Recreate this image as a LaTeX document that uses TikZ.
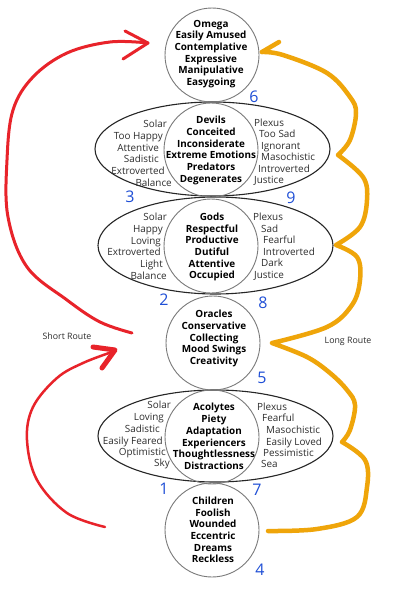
\documentclass[tikz,border=0pt]{standalone}
\usepackage{fontspec}
\setmainfont{Open Sans}
\usetikzlibrary{shapes.geometric}
\definecolor{rred}{HTML}{E8232A}
\definecolor{gold}{HTML}{EFA50A}
\definecolor{numblue}{HTML}{1F4FD6}
\definecolor{sidegray}{HTML}{2E2E2E}
\definecolor{ringgray}{HTML}{7A7A7A}
\begin{document}
\begin{tikzpicture}[x=1pt,y=-1pt,
  ring/.style={circle, draw=ringgray, line width=0.9pt, minimum size=94pt, inner sep=0pt},
  oval/.style={ellipse, draw=black!85, line width=1.1pt, inner sep=0pt},
  core/.style={align=center, inner sep=0pt, font=\fontsize{9.9}{11.7}\selectfont\bfseries},
  lside/.style={anchor=base east, inner sep=0pt, text=sidegray, font=\fontsize{9.9}{11.7}\selectfont},
  rside/.style={anchor=base west, inner sep=0pt, text=sidegray, font=\fontsize{9.9}{11.7}\selectfont},
  routelabel/.style={inner sep=0pt, text=sidegray, font=\fontsize{8.8}{10}\selectfont},
  num/.style={inner sep=0pt, text=numblue, font=\fontsize{16}{16}\selectfont},
  redroute/.style={draw=rred, line width=3pt, line cap=round, line join=round},
  goldroute/.style={draw=gold, line width=4.5pt, line cap=round, line join=round}]
\fill[white] (0,0) rectangle (419,589);
\useasboundingbox (0,0) rectangle (419,589);

% ellipses
\node[oval, minimum width=235pt, minimum height=94pt] (e2) at (212.5,149) {};
\node[oval, minimum width=235pt, minimum height=97pt] (e3) at (215.5,245.5) {};
\node[oval, minimum width=235pt, minimum height=92pt] (e5) at (215.5,436) {};

% circles
\node[ring] (omega) at (212,55) {};
\node[ring] (c2) at (211,150) {};
\node[ring] (c3) at (211,246) {};
\node[ring] (oracles) at (213,343) {};
\node[ring] (c5) at (212,437) {};
\node[ring] (children) at (212,530) {};

% core texts
\node[core] (omegaT) at (211,54) {Omega\\Easily Amused\\Contemplative\\Expressive\\Manipulative\\Easygoing};
\node[core] (c2T) at (211,150.5) {Devils\\Conceited\\Inconsiderate\\Extreme Emotions\\Predators\\Degenerates};
\node[core] (c3T) at (212,247) {Gods\\Respectful\\Productive\\Dutiful\\Attentive\\Occupied};
\node[core] (oraclesT) at (214,338.5) {Oracles\\Conservative\\Collecting\\Mood Swings\\Creativity};
\node[core] (c5T) at (214,436.5) {Acolytes\\Piety\\Adaptation\\Experiencers\\Thoughtlessness\\Distractions};
\node[core] (childrenT) at (213,530) {Children\\Foolish\\Wounded\\Eccentric\\Dreams\\Reckless};

% side texts
\foreach \t/\x/\y [count=\i] in {Solar/167/124, Too Happy/163/136, Attentive/159/148, Sadistic/159/159, Extroverted/165/171, Balance/172/183}
  \node[lside] (r2l\i) at (\x,\y+3.5) {\t};
\foreach \t/\x/\y [count=\i] in {Plexus/254/123, Too Sad/259/134, Ignorant/261/146, Masochistic/261/157, Introverted/258/169, Justice/254/180}
  \node[rside] (r2r\i) at (\x,\y+3.5) {\t};
\foreach \t/\x/\y [count=\i] in {Solar/167/217, Happy/163/229, Loving/161/241, Extroverted/161/252, Light/163/264, Balance/167/276}
  \node[lside] (r3l\i) at (\x,\y+3.5) {\t};
\foreach \t/\x/\y [count=\i] in {Plexus/253/217, Sad/261/229, Fearful/263/240, Introverted/263/252, Dark/261/263, Justice/254/275}
  \node[rside] (r3r\i) at (\x,\y+3.5) {\t};
\foreach \t/\x/\y [count=\i] in {Solar/171/405, Loving/164/417, Sadistic/160/429, Easily Feared/163/441, Optimistic/166/452, Sky/170/463}
  \node[lside] (r5l\i) at (\x,\y+3.5) {\t};
\foreach \t/\x/\y [count=\i] in {Plexus/257/407, Fearful/262/418, Masochistic/266/430, Easily Loved/266/442, Pessimistic/263/453, Sea/261/464}
  \node[rside] (r5r\i) at (\x,\y+3.5) {\t};

% blue numbers
\node[num] (n6) at (254,97) {6};
\node[num] (n3) at (130,197) {3};
\node[num] (n9) at (291,198) {9};
\node[num] (n2) at (164,300) {2};
\node[num] (n8) at (263,303) {8};
\node[num] (n5) at (262,378) {5};
\node[num] (n1) at (164,489) {1};
\node[num] (n7) at (257,490) {7};
\node[num] (n4) at (260,570) {4};

% route labels
\node[routelabel] (shortT) at (67,336) {Short Route};
\node[routelabel] (longT) at (348,341) {Long Route};

% red routes
\coordinate (rtS) at (132,333);
\coordinate (rtE) at (148,43);
\coordinate (rtA) at (125,31);
\coordinate (rtB) at (123,59);
\draw[redroute] plot[smooth, tension=0.6] coordinates {(rtS) (100,322) (67,300) (27,267) (8,217) (7,160) (13,110) (33,77) (67,53) (110,42) (rtE)};
\draw[redroute] (rtA) -- (rtE) -- (rtB);

\coordinate (rbS) at (105,527);
\coordinate (rbE) at (112,352);
\coordinate (rbA) at (93,347);
\coordinate (rbP) at (115,350);
\coordinate (rbB) at (102,368);
\draw[redroute, line width=2.5pt] plot[smooth, tension=0.6] coordinates {(rbS) (67,513) (37,480) (27,440) (33,407) (57,378) (83,363) (rbE)};
\draw[redroute, line width=5pt] (rbA) -- (rbP) -- (rbB);

% gold route
\coordinate (gS) at (268,531);
\coordinate (gE) at (262,52);
\coordinate (gA) at (279,42);
\draw[goldroute]
  plot[smooth, tension=0.6] coordinates {(gS) (317,529) (357,517) (367,487) (365,460) (342,442)}
  plot[smooth, tension=0.6] coordinates {(342,442) (350,430) (355,405) (347,390) (330,373) (307,357) (272,343)}
  plot[smooth, tension=0.6] coordinates {(272,343) (327,327) (352,305) (360,280) (357,257) (336,245)}
  plot[smooth, tension=0.6] coordinates {(336,245) (360,227) (367,200) (363,177) (338,155)}
  plot[smooth, tension=0.6] coordinates {(338,155) (350,140) (356,113) (350,97) (327,73) (283,55) (gE)};
\draw[goldroute] (gA) -- (gE);
\end{tikzpicture}
\end{document}
